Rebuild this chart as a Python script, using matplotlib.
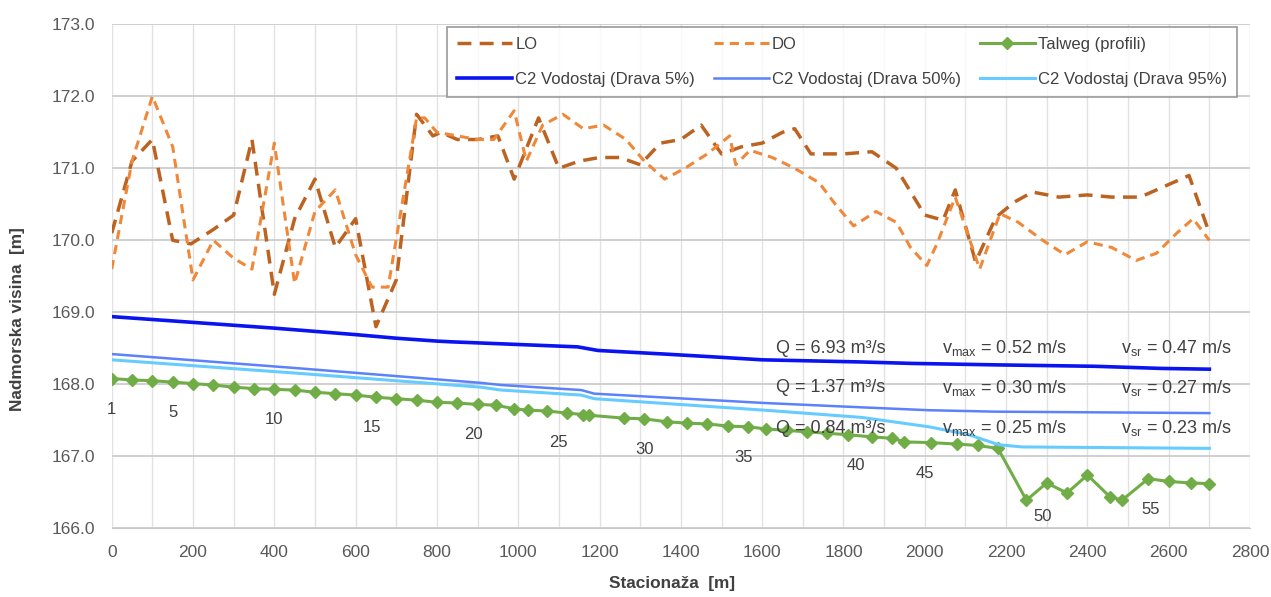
import numpy as np
import matplotlib
matplotlib.use("Agg")
import matplotlib.pyplot as plt
from matplotlib.ticker import MultipleLocator, FormatStrFormatter

plt.rcParams["font.family"] = ["Liberation Sans", "DejaVu Sans"]
plt.rcParams["mathtext.fontset"] = "custom"
plt.rcParams["mathtext.rm"] = "Liberation Sans"
plt.rcParams["mathtext.it"] = "Liberation Sans"
plt.rcParams["mathtext.default"] = "regular"

# lijeva i desna obala (LO / DO)
lo_x = [0, 50, 100, 150, 195, 250, 300, 345, 400, 450, 500, 550, 600, 650, 700, 750,
        790, 810, 850, 900, 950, 990, 1050, 1100, 1150, 1200, 1250, 1300, 1350, 1400,
        1450, 1500, 1550, 1600, 1650, 1680, 1720, 1800, 1870, 1930, 2000, 2045, 2075,
        2125, 2175, 2220, 2265, 2330, 2400, 2460, 2530, 2590, 2650, 2700]
lo_y = [170.10, 171.10, 171.40, 170.00, 169.95, 170.15, 170.35, 171.40, 169.25, 170.30,
        170.85, 169.90, 170.30, 168.80, 169.45, 171.75, 171.45, 171.50, 171.40, 171.40,
        171.45, 170.85, 171.70, 171.00, 171.10, 171.15, 171.15, 171.05, 171.35, 171.40,
        171.60, 171.20, 171.30, 171.35, 171.50, 171.55, 171.20, 171.20, 171.23, 171.00,
        170.35, 170.28, 170.70, 169.70, 170.32, 170.53, 170.67, 170.60, 170.63, 170.60,
        170.60, 170.75, 170.90, 170.10]

do_x = [0, 50, 100, 150, 200, 250, 300, 345, 400, 450, 500, 550, 600, 640, 680, 750,
        770, 800, 850, 900, 940, 990, 1020, 1060, 1110, 1160, 1210, 1265, 1310, 1360,
        1410, 1465, 1520, 1535, 1570, 1625, 1680, 1740, 1780, 1825, 1880, 1930, 1965,
        2005, 2030, 2075, 2135, 2185, 2230, 2290, 2345, 2400, 2460, 2520, 2570, 2620,
        2660, 2700]
do_y = [169.60, 171.10, 172.00, 171.30, 169.45, 170.00, 169.75, 169.60, 171.35, 169.40,
        170.40, 170.70, 169.80, 169.35, 169.35, 171.70, 171.70, 171.50, 171.45, 171.40,
        171.40, 171.80, 171.10, 171.60, 171.75, 171.55, 171.60, 171.40, 171.10, 170.85,
        171.00, 171.20, 171.45, 171.05, 171.25, 171.15, 171.00, 170.80, 170.50, 170.20,
        170.40, 170.25, 169.90, 169.65, 169.95, 170.60, 169.60, 170.37, 170.25, 170.00,
        169.80, 169.98, 169.90, 169.72, 169.82, 170.10, 170.30, 170.00]

# talweg po profilima
talweg_x = [0, 50, 100, 150, 200, 250, 300, 350, 400, 450, 500, 550, 600, 650, 700, 750,
            800, 850, 900, 945, 990, 1025, 1070, 1120, 1160, 1175, 1260, 1310, 1365, 1415,
            1465, 1515, 1565, 1610, 1660, 1710, 1760, 1810, 1870, 1920, 1950, 2015, 2080,
            2130, 2180, 2250, 2300, 2350, 2400, 2455, 2485, 2550, 2600, 2655, 2700]
talweg_y = [168.08, 168.06, 168.05, 168.03, 168.01, 167.99, 167.96, 167.94, 167.93, 167.92,
            167.89, 167.87, 167.85, 167.82, 167.80, 167.78, 167.75, 167.74, 167.72, 167.71,
            167.66, 167.64, 167.63, 167.60, 167.58, 167.57, 167.53, 167.52, 167.48, 167.46,
            167.45, 167.42, 167.41, 167.38, 167.36, 167.34, 167.32, 167.30, 167.27, 167.25,
            167.20, 167.19, 167.17, 167.15, 167.11, 166.39, 166.63, 166.49, 166.74, 166.44,
            166.39, 166.69, 166.65, 166.63, 166.62]

profil_labels = ["1", "5", "10", "15", "20", "25", "30", "35", "40", "45", "50", "55"]
profil_x = [0, 150, 400, 640, 890, 1100, 1310, 1555, 1830, 2000, 2290, 2555]

# vodostaji
w5_x = [0, 400, 600, 700, 800, 835, 1146, 1196, 1360, 1483, 1600, 1845, 1969, 2174, 2420, 2585, 2700]
w5_y = [168.94, 168.78, 168.69, 168.64, 168.60, 168.59, 168.52, 168.47, 168.42, 168.38, 168.34,
        168.31, 168.29, 168.27, 168.25, 168.22, 168.21]
w50_x = [0, 465, 908, 958, 1155, 1187, 1607, 1845, 2010, 2174, 2700]
w50_y = [168.42, 168.22, 168.02, 167.99, 167.92, 167.87, 167.74, 167.68, 167.64, 167.62, 167.60]
w95_x = [0, 465, 908, 958, 1155, 1187, 1607, 1845, 2010, 2108, 2182, 2240, 2700]
w95_y = [168.34, 168.15, 167.96, 167.92, 167.85, 167.80, 167.64, 167.54, 167.41, 167.30, 167.16,
         167.13, 167.11]

# tekst uz vodostaje
q_text = ["Q = 6.93 m³/s", "Q = 1.37 m³/s", "Q = 0.84 m³/s"]
vmax_text = [r"v$_{max}$ = 0.52 m/s", r"v$_{max}$ = 0.30 m/s", r"v$_{max}$ = 0.25 m/s"]
vsr_text = [r"v$_{sr}$ = 0.47 m/s", r"v$_{sr}$ = 0.27 m/s", r"v$_{sr}$ = 0.23 m/s"]
text_y = [168.50, 167.95, 167.39]

fig = plt.figure(figsize=(12.71, 5.97), dpi=100)
ax = fig.add_axes([111.7 / 1271, 1 - 528.3 / 597, 1138.3 / 1271, 504 / 597])

l_lo, = ax.plot(lo_x, lo_y, color="#BC6322", lw=2.5, dashes=(4, 2.4), label="LO", zorder=3)
l_do, = ax.plot(do_x, do_y, color="#F0883A", lw=2.2, dashes=(3, 2.0), label="DO", zorder=3)
l_tw, = ax.plot(talweg_x, talweg_y, color="#70AD47", lw=2.2, marker="D", ms=6.5,
                label="Talweg (profili)", zorder=4)
l_5, = ax.plot(w5_x, w5_y, color="#0A14F0", lw=2.6, label="C2 Vodostaj (Drava 5%)", zorder=5)
l_50, = ax.plot(w50_x, w50_y, color="#5B82FA", lw=1.8, label="C2 Vodostaj (Drava 50%)", zorder=5)
l_95, = ax.plot(w95_x, w95_y, color="#66CCFF", lw=2.2, label="C2 Vodostaj (Drava 95%)", zorder=5)

# oznake profila ispod talwega
for lab, px in zip(profil_labels, profil_x):
    py = np.interp(px, talweg_x, talweg_y)
    ax.annotate(lab, (px, py), xytext=(0, -22), textcoords="offset points",
                ha="center", va="center", fontsize=12, color="#404040", zorder=6)

for q, vm, vs, ty in zip(q_text, vmax_text, vsr_text, text_y):
    ax.text(1634, ty, q, fontsize=13, color="#404040", va="center", ha="left", zorder=6)
    ax.text(2043, ty, vm, fontsize=13, color="#404040", va="center", ha="left", zorder=6)
    ax.text(2755, ty, vs, fontsize=13, color="#404040", va="center", ha="right", zorder=6)

ax.set_xlim(0, 2800)
ax.set_ylim(166, 173)
ax.xaxis.set_major_locator(MultipleLocator(200))
ax.xaxis.set_minor_locator(MultipleLocator(100))
ax.yaxis.set_major_locator(MultipleLocator(1))
ax.yaxis.set_major_formatter(FormatStrFormatter("%.1f"))
ax.grid(axis="y", which="major", color="#C8C8C8", lw=1.2)
ax.grid(axis="x", which="both", color="#E2E2E2", lw=1.0)
ax.set_axisbelow(True)
ax.tick_params(which="both", length=0, labelsize=12.5, labelcolor="#595959")
ax.tick_params(axis="y", pad=12)
ax.tick_params(axis="x", pad=12)
for s in ["top", "right", "left"]:
    ax.spines[s].set_visible(False)
ax.spines["bottom"].set_color("#C8C8C8")

ax.set_xlabel("Stacionaža  [m]", fontsize=12.4, fontweight="bold", color="#404040")
ax.set_ylabel("Nadmorska visina  [m]", fontsize=12.4, fontweight="bold", color="#404040")
ax.xaxis.set_label_coords(0.492, -0.095)
ax.yaxis.set_label_coords(-0.076, 0.415)

leg = ax.legend([l_lo, l_5, l_do, l_50, l_tw, l_95],
                [l_lo.get_label(), l_5.get_label(), l_do.get_label(), l_50.get_label(),
                 l_tw.get_label(), l_95.get_label()],
                ncol=3, loc="upper left", bbox_to_anchor=(0.2946, 0.995, 0.694, 0.0),
                mode="expand", borderaxespad=0, fontsize=12, frameon=True, fancybox=False,
                handlelength=3.3, labelspacing=1.2, handletextpad=0.2, borderpad=0.6,
                labelcolor="#404040")
leg.get_frame().set_edgecolor("#808080")
leg.get_frame().set_linewidth(1.2)
leg.set_zorder(10)

fig.savefig("out.png", dpi=100)
